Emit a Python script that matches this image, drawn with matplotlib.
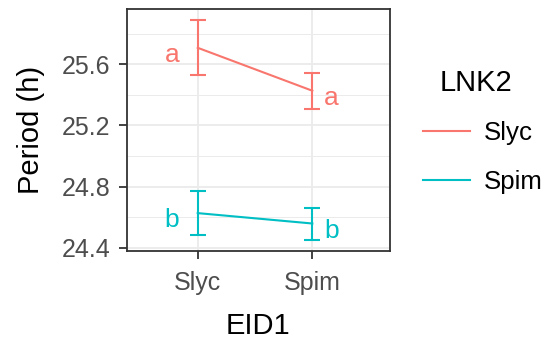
import matplotlib
matplotlib.use("Agg")
import matplotlib.pyplot as plt
from matplotlib.lines import Line2D
import numpy as np

plt.rcParams['font.family'] = ['Liberation Sans', 'DejaVu Sans']

# Data
eid1 = ["Slyc", "Spim"]
lnk2 = ["Slyc", "Spim"]
mean_slyc = [25.708, 25.427]
low_slyc = [25.528, 25.306]
high_slyc = [25.892, 25.545]
mean_spim = [24.626, 24.558]
low_spim = [24.480, 24.453]
high_spim = [24.771, 24.658]
letters_slyc = ["a", "a"]
letters_spim = ["b", "b"]
yticks = [24.4, 24.8, 25.2, 25.6]
yminor = [24.6, 25.0, 25.4, 25.8]

colors = ["#F8766D", "#00BFC4"]

fig = plt.figure(figsize=(5.5, 3.42), dpi=100)
ax = fig.add_axes([126.7/550, 1-250.7/342, (390-126.7)/550, (250.7-9.3)/342])

x = np.arange(len(eid1))
series = [(mean_slyc, low_slyc, high_slyc, letters_slyc),
          (mean_spim, low_spim, high_spim, letters_spim)]
for (m, lo, hi, lets), c in zip(series, colors):
    m = np.array(m); lo = np.array(lo); hi = np.array(hi)
    ax.plot(x, m, color=c, lw=1.5, zorder=3)
    ax.errorbar(x, m, yerr=[m - lo, hi - m], fmt='none', ecolor=c,
                elinewidth=1.5, capsize=5.8, capthick=1.5, zorder=3)
    offs = [(-18.6, 'center'), (13.7, 'center')]
    for xi, mi, lt, (dx, ha) in zip(x, m, lets, offs):
        ax.annotate(lt, (xi, mi), xytext=(dx, -10.3), textcoords='offset points',
                    ha=ha, va='baseline', color=c, fontsize=19)

ax.set_xlim(-0.62, 1.678)
ax.set_ylim(24.38, 25.96)
ax.set_xticks(x)
ax.set_xticklabels(eid1)
ax.set_yticks(yticks)
ax.set_yticklabels([f"{v:.1f}" for v in yticks])
ax.set_yticks(yminor, minor=True)
ax.tick_params(axis='y', which='minor', length=0)
ax.grid(True, which='major', color='#EBEBEB', lw=1.3, zorder=0)
ax.grid(True, which='minor', axis='y', color='#EBEBEB', lw=0.7, zorder=0)
ax.set_axisbelow(True)
for s in ax.spines.values():
    s.set_color('#333333')
    s.set_linewidth(1.3)
ax.tick_params(axis='both', which='major', length=5.5, width=1.3, color='#333333',
               labelcolor='#4D4D4D', labelsize=18)
ax.tick_params(axis='x', pad=9)
ax.tick_params(axis='y', pad=6.5)
ax.set_xlabel("EID1", fontsize=21, labelpad=12)
ax.set_ylabel("Period (h)", fontsize=21, labelpad=12)

handles = [Line2D([0], [0], color=c, lw=1.5) for c in colors]
leg = fig.legend(handles, lnk2, loc='center left',
                 bbox_to_anchor=(423/550, 1-157.4/342), frameon=False, fontsize=18.6,
                 handlelength=1.8, handletextpad=0.55, labelspacing=0.96,
                 borderpad=0, borderaxespad=0)
fig.text(440/550, 1-82.7/342, "LNK2", fontsize=21, ha='left', va='center')

fig.savefig("out.png", dpi=100)
